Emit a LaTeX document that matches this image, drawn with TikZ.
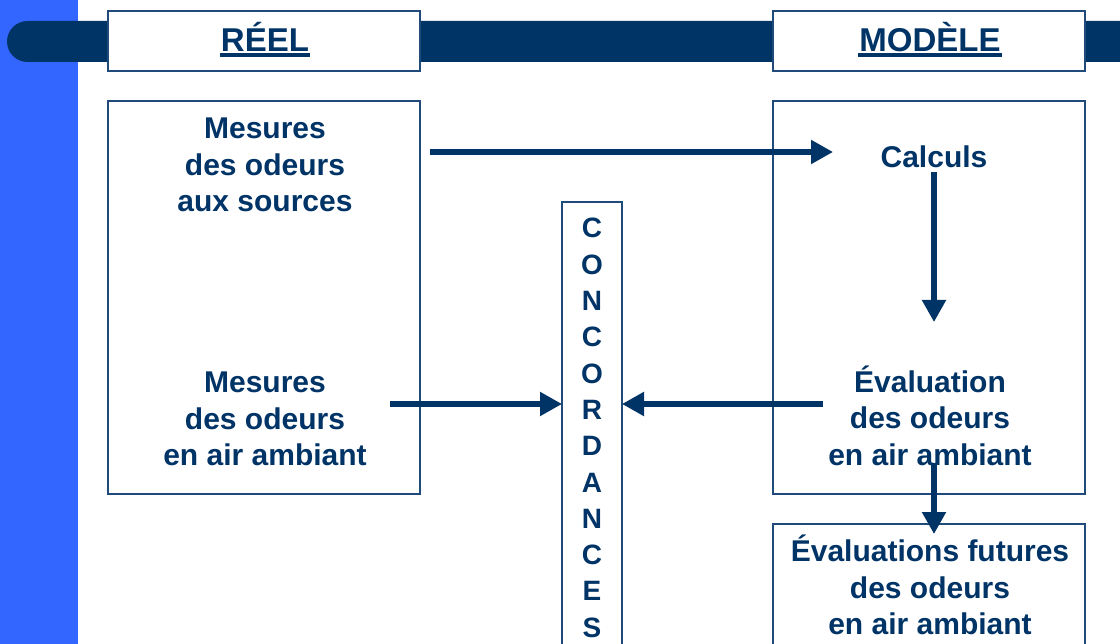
\documentclass[tikz,border=0pt]{standalone}
\usepackage{fontspec}
\setmainfont{Liberation Sans}
\usetikzlibrary{arrows.meta,calc}
\definecolor{navy}{HTML}{003366}
\definecolor{side}{HTML}{3366FF}
\definecolor{edge}{HTML}{1F4A7A}
\begin{document}
\begin{tikzpicture}[x=1pt,y=-1pt,
  box/.style={draw=edge,line width=1.2pt,fill=white,inner sep=0,outer sep=0,anchor=north west},
  txt/.style={text=navy,font=\fontsize{30}{36.5}\selectfont\bfseries,align=center,inner sep=0},
  ctxt/.style={text=navy,font=\fontsize{28}{36.3}\selectfont\bfseries,align=center,inner sep=0},
  ttl/.style={text=navy,font=\fontsize{33}{40}\selectfont\bfseries,inner sep=0,anchor=base},
  arr/.style={draw=navy,line width=5.2pt,-{Triangle[length=22pt,width=23pt]}}]
\clip (0,0) rectangle (1120,644);
\fill[white] (0,0) rectangle (1120,644);
\fill[side] (0,0) rectangle (78,644);
\fill[navy,rounded corners=20.5pt] (7,21) rectangle (1150,62);
% boxes
\node[box,minimum width=312pt,minimum height=60pt] (hreel) at (108,11) {};
\node[box,minimum width=312pt,minimum height=60pt] (hmod) at (773,11) {};
\node[box,minimum width=312pt,minimum height=393pt] (lbox) at (108,101) {};
\node[box,minimum width=312pt,minimum height=393pt] (rbox) at (773,101) {};
\node[box,minimum width=60pt,minimum height=500pt] (cbox) at (562,202) {};
\node[box,minimum width=312pt,minimum height=200pt] (fbox) at (773,524) {};
% titles
\node[ttl] (treel) at (265,51.5) {RÉEL};
\node[ttl] (tmod) at (930,51.5) {MODÈLE};
\fill[navy] ($(treel.base west)+(-1,1.5)$) rectangle ($(treel.base east)+(1,5.5)$);
\fill[navy] ($(tmod.base west)+(-1,1.5)$) rectangle ($(tmod.base east)+(1,5.5)$);
% texts
\node[txt] (m1) at (265,165) {Mesures\\des odeurs\\aux sources};
\node[txt] (m2) at (265,419) {Mesures\\des odeurs\\en air ambiant};
\node[txt] (calc) at (934,157) {Calculs};
\node[txt] (ev) at (930,415.5) {Évaluation\\des odeurs\\en air ambiant};
\node[txt] (fut) at (930,585) {Évaluations futures\\des odeurs\\en air ambiant};
\node[ctxt] (conc) at (592,428) {C\\O\\N\\C\\O\\R\\D\\A\\N\\C\\E\\S};
% arrows
\coordinate (a1s) at (430,152);
\coordinate (a1e) at (833,152);
\coordinate (v1s) at (934,172);
\coordinate (v1e) at (934,322);
\coordinate (la) at (390,404);
\coordinate (ra) at (823,404);
\coordinate (v2s) at (934,463);
\coordinate (v2e) at (934,534);
\draw[arr] (a1s) -- (a1e);
\draw[arr] (v1s) -- (v1e);
\draw[arr] (la) -- (la -| cbox.west);
\draw[arr] (ra) -- (ra -| cbox.east);
\draw[arr] (v2s) -- (v2e);
\end{tikzpicture}
\end{document}
